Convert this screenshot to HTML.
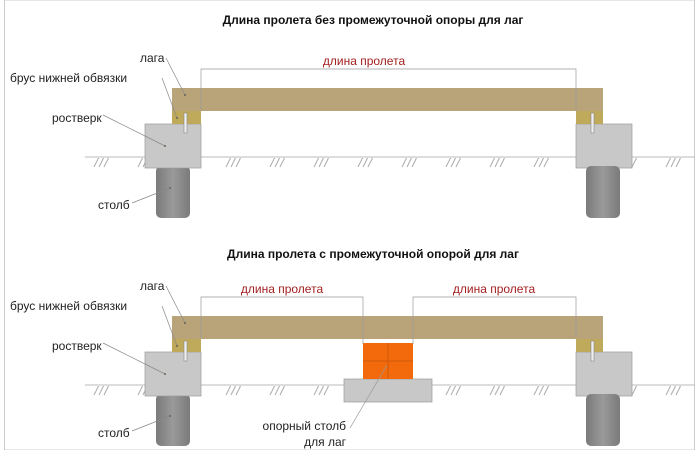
<!DOCTYPE html>
<html><head><meta charset="utf-8"><style>
html,body{margin:0;padding:0;background:#fff;}
svg{display:block;font-family:"Liberation Sans",sans-serif;}
</style></head><body>
<svg width="700" height="450" viewBox="0 0 700 450">
<defs>
<linearGradient id="post" x1="0" x2="1"><stop offset="0" stop-color="#7a7a7a"/><stop offset="0.5" stop-color="#9a9a9a"/><stop offset="1" stop-color="#7a7a7a"/></linearGradient>
<pattern id="hatch" x="0" y="0" width="44" height="14" patternUnits="userSpaceOnUse">
<path d="M6 13 L11 3 M11 13 L16 3 M16 13 L21 3" stroke="#aaa" stroke-width="1" fill="none"/>
</pattern>
<g id="diag">
<!-- ground -->
<line x1="85" y1="157" x2="695" y2="157" stroke="#bbb" stroke-width="1"/>
<rect x="85" y="158" width="610" height="12" fill="url(#hatch)"/>
<!-- dim ticks -->
<!-- left support -->
<rect x="156" y="166" width="34" height="52" rx="5" fill="url(#post)"/>
<rect x="145" y="124" width="56" height="44" fill="#c8c8c8" stroke="#999" stroke-width="0.7"/>
<rect x="576" y="124" width="56" height="44" fill="#c8c8c8" stroke="#999" stroke-width="0.7"/>
<rect x="586" y="166" width="34" height="52" rx="5" fill="url(#post)"/>
<!-- brus -->
<rect x="172" y="111" width="29" height="13" fill="#bfa95a"/>
<rect x="576" y="111" width="27" height="13" fill="#bfa95a"/>
<!-- beam -->
<rect x="172" y="88" width="431" height="23" fill="#b9a47a"/>
<!-- bolts -->
<rect x="184" y="113" width="3" height="20" fill="#eee" stroke="#888" stroke-width="0.6"/>
<rect x="591" y="113" width="3" height="20" fill="#eee" stroke="#888" stroke-width="0.6"/>
<!-- leaders -->
<g stroke="#888" stroke-width="0.7" fill="none">
<line x1="166" y1="58" x2="185" y2="95"/>
<line x1="162" y1="78" x2="177" y2="118"/>
<line x1="103" y1="115" x2="165" y2="146"/>
<line x1="132" y1="203" x2="170" y2="188"/>
</g>
<g fill="#665">
<circle cx="185" cy="95" r="1"/><circle cx="177" cy="118" r="1"/><circle cx="165" cy="146" r="1"/><circle cx="170" cy="188" r="1"/>
</g>
<g font-size="12" fill="#222">
<text x="140" y="62">лага</text>
<text x="10" y="82">брус нижней обвязки</text>
<text x="52" y="122">ростверк</text>
<text x="98" y="209">столб</text>
</g>
</g>
</defs>
<rect x="4.5" y="0" width="690" height="450" fill="none" stroke="#ccc"/>
<text x="373" y="24" text-anchor="middle" font-size="12" font-weight="bold" fill="#111">Длина пролета без промежуточной опоры для лаг</text>
<use href="#diag"/>
<g stroke="#999" stroke-width="0.7" fill="none">
<path d="M201 110 V69 H576 V110"/>
</g>
<text x="364" y="65" text-anchor="middle" font-size="12" fill="#a32020">длина пролета</text>

<text x="373" y="258" text-anchor="middle" font-size="12" font-weight="bold" fill="#111">Длина пролета с промежуточной опорой для лаг</text>
<use href="#diag" y="228"/>
<!-- intermediate support -->
<rect x="344" y="379" width="88" height="23" fill="#c8c8c8" stroke="#999" stroke-width="0.7"/>
<rect x="363" y="343" width="50" height="36" fill="#f26a0c"/>
<g stroke="#d2580a" stroke-width="1"><line x1="363" y1="361" x2="413" y2="361"/><line x1="388" y1="343" x2="388" y2="379"/></g>
<g stroke="#999" stroke-width="0.7" fill="none">
<path d="M201 338 V297 H363 V344"/>
<path d="M413 344 V297 H576 V338"/>
<line x1="350" y1="428" x2="387" y2="365"/>
</g>
<text x="282" y="293" text-anchor="middle" font-size="12" fill="#a32020">длина пролета</text>
<text x="494" y="293" text-anchor="middle" font-size="12" fill="#a32020">длина пролета</text>
<g font-size="12" fill="#222" text-anchor="end">
<text x="346" y="430">опорный столб</text>
<text x="346" y="446">для лаг</text>
</g>
</svg>
</body></html>
